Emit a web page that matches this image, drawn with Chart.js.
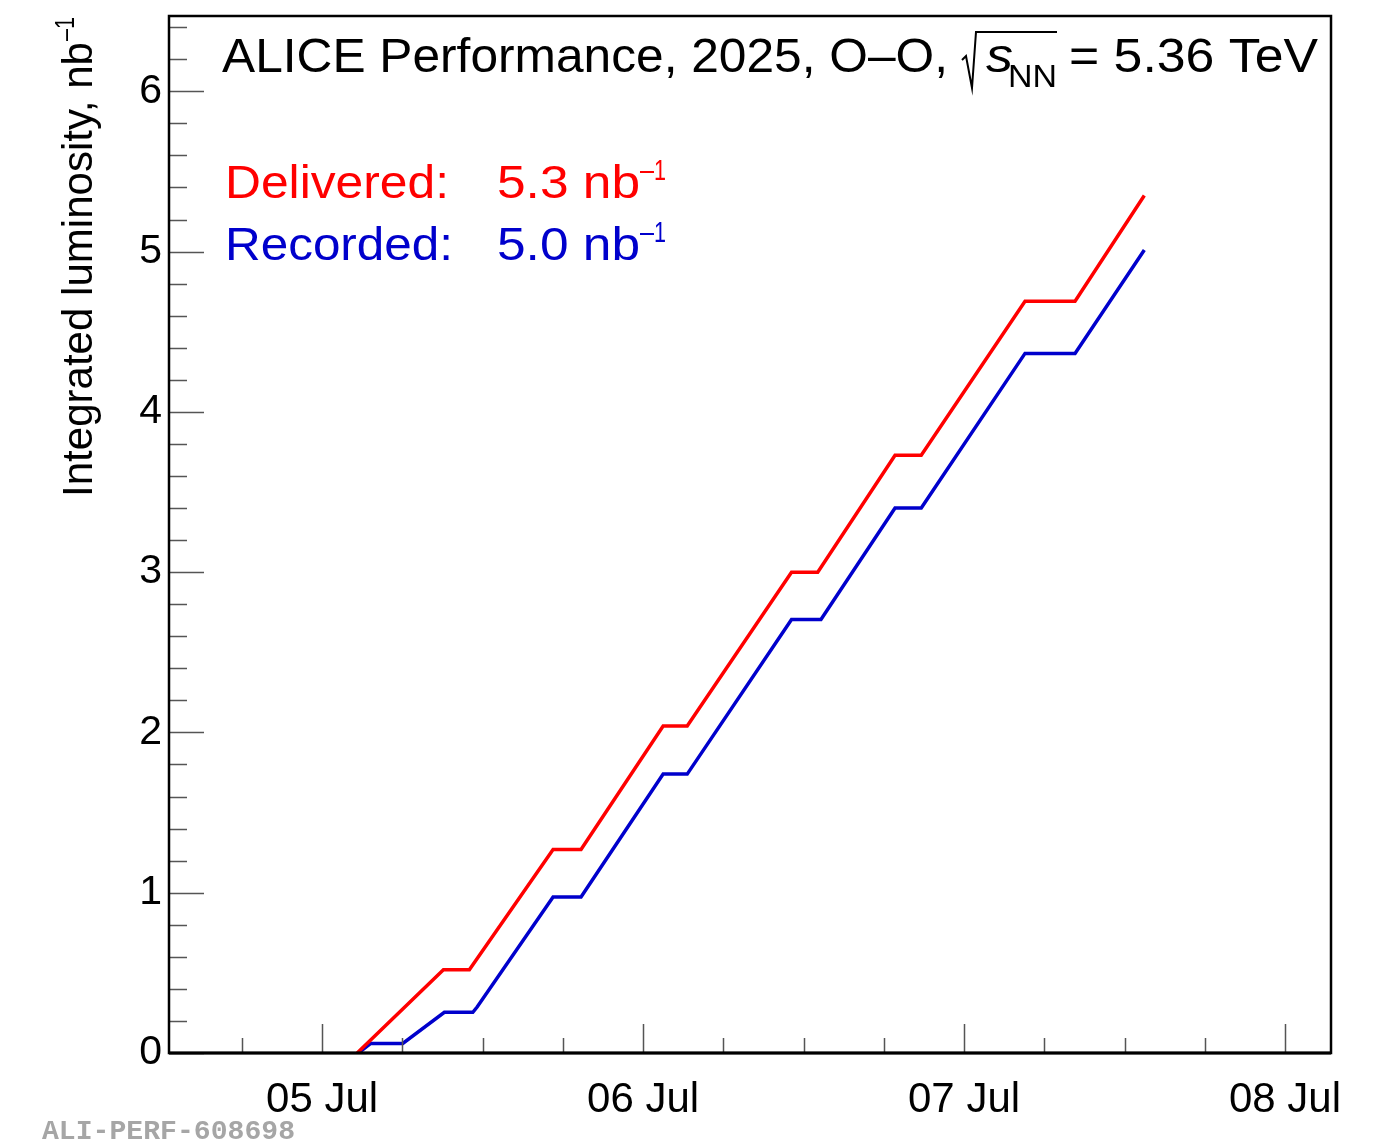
<!DOCTYPE html>
<html><head><meta charset="utf-8">
<script src="https://cdn.jsdelivr.net/npm/chart.js@4/dist/chart.umd.min.js"></script>
<style>html,body{margin:0;padding:0;background:#fff;overflow:hidden}canvas{display:block}</style>
</head><body>
<canvas id="c" width="1373" height="1145"></canvas>
<script>
// Time in hours since 05 Jul 2025 00:00 ; integrated luminosity in nb^-1
const deliveredHours = [2.62, 9.07, 11.01, 17.27, 19.36, 25.5, 27.3, 35.1, 37.06, 42.84, 44.8, 52.56, 56.3, 61.48];
const deliveredLumi  = [0.0, 0.52, 0.52, 1.27, 1.27, 2.04, 2.04, 3.0, 3.0, 3.73, 3.73, 4.69, 4.69, 5.35];
const recordedHours  = [2.71, 3.64, 6.03, 9.14, 11.27, 11.59, 17.27, 19.36, 25.5, 27.3, 35.1, 37.3, 42.84, 44.8, 52.56, 56.3, 61.48];
const recordedLumi   = [0.0, 0.06, 0.06, 0.254, 0.254, 0.287, 0.973, 0.973, 1.74, 1.74, 2.705, 2.705, 3.40, 3.40, 4.365, 4.365, 5.01];
const xTickHours  = [0, 24, 48, 72];
const xTickLabels = ['05 Jul', '06 Jul', '07 Jul', '08 Jul'];
const yTickValues = [0, 1, 2, 3, 4, 5, 6];
const seriesNames  = ['Delivered:', 'Recorded:'];
const seriesTotals = ['5.3 nb', '5.0 nb'];
const titleMain = 'ALICE Performance, 2025, O\u2013O,';
const titleEnergy = '= 5.36 TeV';
const yTitle = 'Integrated luminosity, nb';
const footerText = 'ALI-PERF-608698';

const FONT = "'Liberation Sans', Arial, Helvetica, sans-serif";
const RED = '#ff0000', BLUE = '#0000cc';

function fitText(ctx, text, x, y, size, color, width, italic) {
  ctx.save();
  ctx.font = (italic ? 'italic ' : '') + size + 'px ' + FONT;
  ctx.fillStyle = color;
  ctx.textBaseline = 'alphabetic';
  ctx.textAlign = 'left';
  const w = ctx.measureText(text).width;
  const s = width ? width / w : 1;
  ctx.translate(x, y);
  ctx.scale(s, 1);
  ctx.fillText(text, 0, 0);
  ctx.restore();
}

const decor = {
  id: 'decor',
  afterDraw(chart) {
    const ctx = chart.ctx, a = chart.chartArea;
    const xs = chart.scales.x, ys = chart.scales.y;
    ctx.save();
    // inner ticks
    ctx.strokeStyle = '#555';
    ctx.lineWidth = 1.5;
    ctx.beginPath();
    for (let i = 0; i * 0.2 <= ys.max + 1e-9; i++) {
      const v = i * 0.2, py = Math.round(ys.getPixelForValue(v)) + 0.5;
      const len = (i % 5 === 0) ? 35 : 18;
      ctx.moveTo(a.left, py); ctx.lineTo(a.left + len, py);
    }
    for (let h = -12; h <= xs.max; h += 6) {
      if (h < xs.min) continue;
      const px = Math.round(xs.getPixelForValue(h)) + 0.5;
      const len = (h % 24 === 0) ? 29 : 15;
      ctx.moveTo(px, a.bottom); ctx.lineTo(px, a.bottom - len);
    }
    ctx.stroke();
    // frame
    ctx.strokeStyle = '#000';
    ctx.lineWidth = 2.5;
    ctx.strokeRect(a.left, a.top, a.right - a.left, a.bottom - a.top);
    ctx.lineWidth = 3;
    ctx.beginPath(); ctx.moveTo(a.left, a.bottom); ctx.lineTo(a.right, a.bottom); ctx.stroke();

    // title
    fitText(ctx, titleMain, 222, 72, 49, '#000', 726);
    ctx.strokeStyle = '#000'; ctx.lineWidth = 2;
    ctx.beginPath();
    ctx.moveTo(962, 60); ctx.lineTo(966, 56); ctx.lineTo(972, 88); ctx.lineTo(976, 32); ctx.lineTo(1057, 32);
    ctx.stroke();
    fitText(ctx, 's', 986, 72, 49, '#000', 27, true);
    fitText(ctx, 'NN', 1008, 87, 31, '#000', 49);
    fitText(ctx, titleEnergy, 1069, 72, 49, '#000', 249);

    // legend
    const legColors = [RED, BLUE], legBase = [198, 260];
    for (let i = 0; i < 2; i++) {
      fitText(ctx, seriesNames[i], 225, legBase[i], 47, legColors[i], i === 0 ? 224 : 228);
      fitText(ctx, seriesTotals[i], 497, legBase[i], 47, legColors[i], 143);
      fitText(ctx, '\u2013', 640, legBase[i] - 18, 29, legColors[i], 14);
      fitText(ctx, '1', 654, legBase[i] - 18, 29, legColors[i], 12);
    }

    // y title
    ctx.save();
    ctx.translate(92, 497);
    ctx.rotate(-Math.PI / 2);
    fitText(ctx, yTitle, 0, 0, 42, '#000', 455);
    fitText(ctx, '\u2013', 456, -18, 27, '#000', 12);
    fitText(ctx, '1', 468, -18, 27, '#000', 12);
    ctx.restore();

    // footer
    ctx.font = "bold 28px 'Liberation Mono', 'DejaVu Sans Mono', monospace";
    ctx.fillStyle = '#a6a6a6';
    ctx.textBaseline = 'alphabetic';
    ctx.textAlign = 'left';
    const fw = ctx.measureText(footerText).width;
    ctx.save(); ctx.translate(42, 1139); ctx.scale(253 / fw, 1); ctx.fillText(footerText, 0, 0); ctx.restore();
    ctx.restore();
  }
};

const toXY = (xs, ys) => xs.map((x, i) => ({ x: x, y: ys[i] }));

new Chart(document.getElementById('c'), {
  type: 'line',
  data: {
    datasets: [
      { label: 'Delivered', data: toXY(deliveredHours, deliveredLumi), borderColor: RED, borderWidth: 3.5, pointRadius: 0, tension: 0, fill: false, borderJoinStyle: 'miter' },
      { label: 'Recorded', data: toXY(recordedHours, recordedLumi), borderColor: BLUE, borderWidth: 3.5, pointRadius: 0, tension: 0, fill: false, borderJoinStyle: 'miter' }
    ]
  },
  options: {
    responsive: false,
    animation: false,
    devicePixelRatio: 1,
    layout: { padding: { left: 0, top: 16, right: 42, bottom: 0 } },
    plugins: { legend: { display: false }, tooltip: { enabled: false }, title: { display: false } },
    scales: {
      x: {
        type: 'linear',
        min: -11.45, max: 75.44,
        grid: { display: false, drawTicks: false },
        border: { display: false },
        afterBuildTicks: s => { s.ticks = xTickHours.map(v => ({ value: v })); },
        ticks: {
          autoSkip: false, maxRotation: 0, minRotation: 0, padding: 22,
          color: '#000', font: { family: FONT, size: 42 },
          callback: v => { const i = xTickHours.indexOf(v); return i >= 0 ? xTickLabels[i] : ''; }
        },
        afterFit: s => { s.height = 92; s.paddingLeft = 0; s.paddingRight = 0; }
      },
      y: {
        type: 'linear',
        min: 0, max: 6.47,
        grid: { display: false, drawTicks: false },
        border: { display: false },
        afterBuildTicks: s => { s.ticks = yTickValues.map(v => ({ value: v })); },
        ticks: {
          padding: 7, color: '#000', font: { family: FONT, size: 41 },
          callback: v => String(v)
        },
        afterFit: s => { s.width = 169; s.paddingTop = 0; s.paddingBottom = 0; }
      }
    }
  },
  plugins: [decor]
});
</script>
</body></html>
